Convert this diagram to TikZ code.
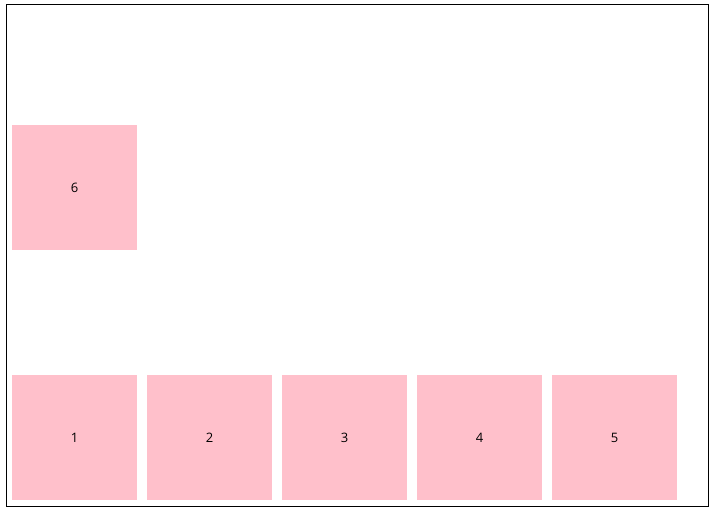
\documentclass[tikz,border=0pt]{standalone}
\usepackage{fontspec}
\setmainfont{Open Sans}
\definecolor{pinkbox}{HTML}{FFC0CB}
\begin{document}
\begin{tikzpicture}[x=1pt,y=-1pt,
  cell/.style={fill=pinkbox,draw=none,minimum width=125pt,minimum height=125pt,inner sep=0pt,anchor=north west,font=\fontsize{13}{15}\selectfont,text=black}]
\useasboundingbox (0,0) rectangle (715,512);
\draw[line width=1pt] (6.5,4.5) rectangle (708.5,506.5);
\node[cell] (n6) at (12,125) {\raisebox{-1pt}{6}};
\node[cell] (n1) at (12,375) {\raisebox{-1pt}{1}};
\node[cell] (n2) at (147,375) {\raisebox{-1pt}{2}};
\node[cell] (n3) at (282,375) {\raisebox{-1pt}{3}};
\node[cell] (n4) at (417,375) {\raisebox{-1pt}{4}};
\node[cell] (n5) at (552,375) {\raisebox{-1pt}{5}};
\end{tikzpicture}
\end{document}
